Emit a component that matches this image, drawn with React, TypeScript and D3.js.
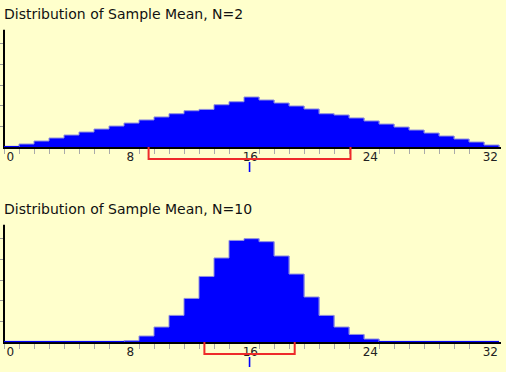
import React from "react";
import * as d3 from "d3";

const bins = [0,1,2,3,4,5,6,7,8,9,10,11,12,13,14,15,16,17,18,19,20,21,22,23,24,25,26,27,28,29,30,31,32];
const xTickLabels = [0, 8, 16, 24, 32];
const yTickValues = [2.5, 5, 7.5, 10, 12.5];

const pctN2 = [0,0.36,0.72,1.08,1.44,1.80,2.16,2.52,2.88,3.25,3.61,4.00,4.36,4.52,5.08,5.44,6.01,5.65,5.29,4.93,4.57,4.00,3.85,3.49,3.13,2.76,2.40,2.04,1.68,1.32,0.96,0.60,0.24];
const pctN10 = [0,0,0,0,0,0,0,0,0.16,0.72,1.80,3.20,5.24,7.88,10.10,12.21,12.42,12.06,10.34,8.17,5.41,3.20,1.80,0.91,0.36,0,0,0,0,0,0,0,0];

const titles = ["Distribution of Sample Mean, N=2", "Distribution of Sample Mean, N=10"];
const means = [16, 16];
const sds = [6.73, 3.01];

const W = 506;
const H = 372;
const FONT = "'DejaVu Sans', Verdana, sans-serif";

function Panel({ offY, title, values, mean, sd }: { offY: number; title: string; values: number[]; mean: number; sd: number }) {
  const B = 147 + offY;
  const x = d3.scaleLinear().domain([0, 33]).range([4, 499]);
  const y = d3.scaleLinear().domain([0, 14.1]).range([B, B - 117.3]);
  const bw = x(1) - x(0);
  const off = 0.37;
  const lo = x(mean - sd + off);
  const hi = x(mean + sd + off);
  const mx = x(mean + off);

  // step contour along the tops of the non-empty bars
  const contours: string[] = [];
  let cur = "";
  bins.forEach((k) => {
    const v = values[k];
    if (v > 0) {
      const t = y(v);
      if (!cur) cur = `M${x(k)},${B} L${x(k)},${t}`;
      else cur += ` L${x(k)},${t}`;
      cur += ` L${x(k + 1)},${t}`;
      const next = k + 1 < bins.length ? values[k + 1] : 0;
      if (!(next > 0)) {
        cur += ` L${x(k + 1)},${B}`;
        contours.push(cur);
        cur = "";
      }
    }
  });

  return (
    <g>
      <text x={4} y={19 + offY} fontFamily={FONT} fontSize={14} fill="#111">{title}</text>
      {bins.map((k) => {
        const v = values[k];
        if (v <= 0) return null;
        const top = y(v);
        return (
          <rect key={k} x={x(k)} y={top} width={bw + 0.3} height={B - top} fill="#0000ff" />
        );
      })}
      {contours.map((d, i) => (
        <path key={"c" + i} d={d} fill="none" stroke="#9090dd" strokeWidth={1} />
      ))}
      <line x1={4} x2={4} y1={29.7 + offY} y2={B + 2} stroke="#000" strokeWidth={2} />
      {yTickValues.map((t) => (
        <line key={t} x1={0} x2={3} y1={Math.round(y(t)) + 0.5} y2={Math.round(y(t)) + 0.5} stroke="#999" strokeWidth={1} />
      ))}
      <line x1={3} x2={501} y1={B + 1} y2={B + 1} stroke="#000" strokeWidth={2} />
      {bins.map((k) => values[k] <= 0 ? (
        <line key={"z" + k} x1={x(k)} x2={x(k) + bw} y1={B - 0.5} y2={B - 0.5} stroke="#0000ff" strokeWidth={1.2} />
      ) : null)}
      {bins.map((k) => (k % 8 === 0 && k > 0) ? null : (
        <line key={"t" + k} x1={Math.round(x(k)) + 0.5} x2={Math.round(x(k)) + 0.5} y1={B + 2} y2={B + 7} stroke="#aaa" strokeWidth={1} />
      ))}
      {xTickLabels.map((t) => (
        <text key={"l" + t} x={x(t) + 6.3} y={B + 14} textAnchor="middle" fontFamily={FONT} fontSize={12} fill="#222">{t}</text>
      ))}
      <path d={`M${lo},${B} L${lo},${B + 12} L${hi},${B + 12} L${hi},${B}`} fill="none" stroke="#ee2a2a" strokeWidth={2} />
      <line x1={mx} x2={mx} y1={B + 15} y2={B + 25} stroke="#0000ff" strokeWidth={1.6} />
    </g>
  );
}

export default function App() {
  if (typeof document !== "undefined") document.body.style.margin = "0";
  return (
    <svg width={W} height={H} style={{ position: "absolute", left: 0, top: 0, display: "block" }}>
      <rect x={0} y={0} width={W} height={H} fill="#ffffcc" />
      <Panel offY={0} title={titles[0]} values={pctN2} mean={means[0]} sd={sds[0]} />
      <Panel offY={195} title={titles[1]} values={pctN10} mean={means[1]} sd={sds[1]} />
    </svg>
  );
}
